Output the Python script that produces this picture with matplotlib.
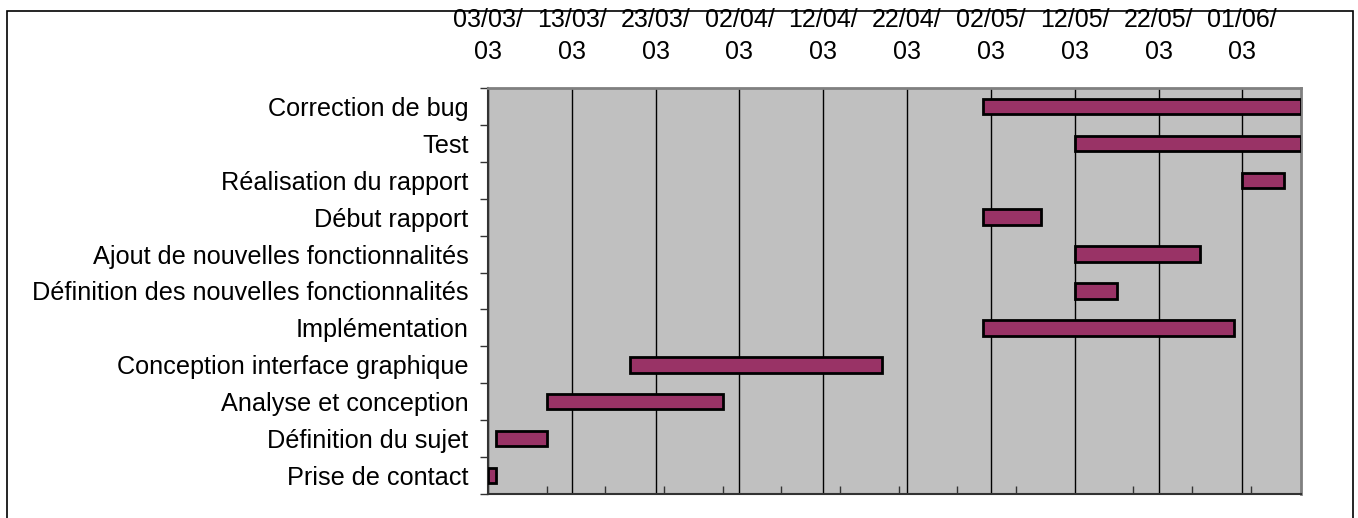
import matplotlib
matplotlib.use("Agg")
import matplotlib.pyplot as plt
import matplotlib.dates as mdates
import matplotlib.patches as patches
import numpy as np

plt.rcParams['font.family'] = ['Liberation Sans', 'DejaVu Sans']

# planning du projet, de bas en haut
tasks = [
    "Prise de contact",
    "Définition du sujet",
    "Analyse et conception",
    "Conception interface graphique",
    "Implémentation",
    "Définition des nouvelles fonctionnalités",
    "Ajout de nouvelles fonctionnalités",
    "Début rapport",
    "Réalisation du rapport",
    "Test",
    "Correction de bug",
]
starts = ["2003-03-03", "2003-03-04", "2003-03-10", "2003-03-20",
          "2003-05-01", "2003-05-12", "2003-05-12", "2003-05-01",
          "2003-06-01", "2003-05-12", "2003-05-01"]
ends = ["2003-03-04", "2003-03-10", "2003-03-31", "2003-04-19",
        "2003-05-31", "2003-05-17", "2003-05-27", "2003-05-08",
        "2003-06-06", "2003-06-08", "2003-06-08"]
date_min = "2003-03-03"
date_max = "2003-06-08"

start_num = mdates.datestr2num(starts)
end_num = mdates.datestr2num(ends)
x0 = mdates.datestr2num(date_min)
x1 = mdates.datestr2num(date_max)

fig = plt.figure(figsize=(13.58, 5.18), dpi=100)
ax = fig.add_axes([488 / 1358, 1 - 494 / 518, (1301 - 488) / 1358, (494 - 88) / 518])
ax.set_facecolor("#C0C0C0")

y = np.arange(len(tasks))
ax.barh(y, end_num - start_num, left=start_num, height=0.42,
        color="#993366", edgecolor="black", linewidth=2, zorder=3)

ax.set_xlim(x0, x1)
ax.set_ylim(-0.5, len(tasks) - 0.5)

# dates tous les 10 jours en haut, graduations hebdo en bas
major = np.arange(x0, x1, 10)
minor = np.arange(x0, x1, 7)
ax.set_xticks(major)
ax.set_xticks(minor, minor=True)
ax.set_xticklabels([mdates.num2date(d).strftime("%d/%m/\n%y") for d in major],
                   fontsize=18, linespacing=1.45)
ax.tick_params(axis='x', which='major', top=True, labeltop=True,
               bottom=False, labelbottom=False, length=0, pad=17)
ax.tick_params(axis='x', which='minor', top=False, bottom=True,
               direction='in', length=6, width=1, color="#333333")
ax.xaxis.grid(True, which='major', color="black", linewidth=1, zorder=1)
ax.set_axisbelow(True)

# libellés des tâches centrés, graduations aux limites des lignes
ax.set_yticks(y)
ax.set_yticklabels(tasks, fontsize=18.2)
ax.set_yticks(np.arange(len(tasks) + 1) - 0.5, minor=True)
ax.tick_params(axis='y', which='major', length=0, pad=14)
ax.tick_params(axis='y', which='minor', length=6, width=1, color="#333333")

for side in ("top", "right"):
    ax.spines[side].set_color("#808080")
    ax.spines[side].set_linewidth(2)
ax.spines["left"].set_color("#333333")
ax.spines["left"].set_linewidth(1.5)
ax.spines["bottom"].set_color("#333333")
ax.spines["bottom"].set_linewidth(1.5)

# cadre du graphique
frame = patches.Rectangle((7 / 1358, -0.1), (1353 - 7) / 1358, 1.1 - 11 / 518,
                          transform=fig.transFigure, fill=False,
                          edgecolor="black", linewidth=1.2, clip_on=False)
fig.patches.append(frame)

fig.savefig("out.png", dpi=100)
